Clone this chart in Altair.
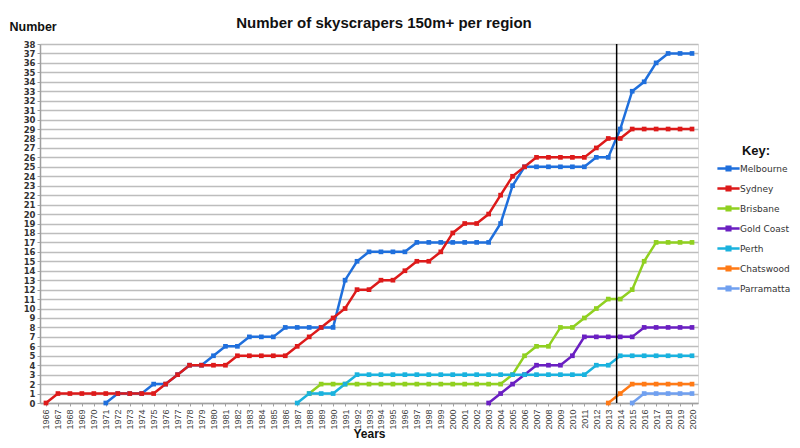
import altair as alt
import pandas as pd

years = list(range(1966, 2021))

regions = ["Melbourne", "Sydney", "Brisbane", "Gold Coast", "Perth", "Chatswood", "Parramatta"]
colors = ["#1f6fdc", "#dd1a1a", "#90d020", "#6a1fc2", "#1ab2de", "#ff7a16", "#70a0f0"]

melbourne_start = 1971
melbourne = [0, 1, 1, 1, 2, 2, 3, 4, 4, 5, 6, 6, 7, 7, 7, 8, 8, 8, 8, 8,
             13, 15, 16, 16, 16, 16, 17, 17, 17, 17, 17, 17, 17, 19, 23, 25, 25, 25, 25, 25,
             25, 26, 26, 29, 33, 34, 36, 37, 37, 37]
sydney_start = 1966
sydney = [0, 1, 1, 1, 1, 1, 1, 1, 1, 1, 2, 3, 4, 4, 4, 4, 5, 5, 5, 5,
          5, 6, 7, 8, 9, 10, 12, 12, 13, 13, 14, 15, 15, 16, 18, 19, 19, 20, 22, 24,
          25, 26, 26, 26, 26, 26, 27, 28, 28, 29, 29, 29, 29, 29, 29]
brisbane_start = 1988
brisbane = [1, 2, 2, 2, 2, 2, 2, 2, 2, 2, 2, 2, 2, 2, 2, 2, 2, 3, 5, 6,
            6, 8, 8, 9, 10, 11, 11, 12, 15, 17, 17, 17, 17]
goldcoast_start = 2003
goldcoast = [0, 1, 2, 3, 4, 4, 4, 5, 7, 7, 7, 7, 7, 8, 8, 8, 8, 8]
perth_start = 1987
perth = [0, 1, 1, 1, 2, 3, 3, 3, 3, 3, 3, 3, 3, 3, 3, 3, 3, 3, 3, 3,
         3, 3, 3, 3, 3, 4, 4, 5, 5, 5, 5, 5, 5, 5]
chatswood_start = 2013
chatswood = [0, 1, 2, 2, 2, 2, 2, 2]
parramatta_start = 2015
parramatta = [0, 1, 1, 1, 1, 1]

marker_year = 2013.7

series = [
    ("Melbourne", melbourne_start, melbourne),
    ("Sydney", sydney_start, sydney),
    ("Brisbane", brisbane_start, brisbane),
    ("Gold Coast", goldcoast_start, goldcoast),
    ("Perth", perth_start, perth),
    ("Chatswood", chatswood_start, chatswood),
    ("Parramatta", parramatta_start, parramatta),
]
rows = []
for name, start, vals in series:
    for i, v in enumerate(vals):
        rows.append({"Region": name, "Year": start + i, "Number": v})
df = pd.DataFrame(rows)

FONT_LBL = "DejaVu Sans"
FONT_TTL = "Liberation Sans"

x_scale = alt.Scale(domain=[1965.5, 2020.5], nice=False, zero=False)
y_scale = alt.Scale(domain=[0, 38], nice=False)
color_scale = alt.Scale(domain=regions, range=colors)

legend_path = "M-1.85,0L1.85,0M-0.3,-0.3L0.3,-0.3L0.3,0.3L-0.3,0.3Z"

x_axis = alt.Axis(
    values=years, labelAngle=270, labelFont=FONT_TTL, labelFontSize=9,
    labelColor="#444444", labelPadding=3, labelAlign="right", labelBaseline="middle",
    labelOverlap=False, grid=False, domainColor="#a0a0a0", domainWidth=1.5,
    tickColor="#a0a0a0", tickSize=3, format="d",
    title="Years", titleFont=FONT_TTL, titleFontSize=12,
    titleFontWeight="bold", titleColor="#111111",
    titleBaseline="alphabetic", titleY=34,
)
y_axis = alt.Axis(
    values=list(range(0, 39)), labelFont=FONT_LBL, labelFontSize=8.5,
    labelFontWeight="bold", labelColor="#333333", labelPadding=2,
    labelOverlap=False, format="d",
    grid=True, gridColor="#bdbdbd", gridWidth=1.5, domainColor="#a0a0a0",
    domainWidth=1.5, tickColor="#a0a0a0", tickSize=3,
    title="Number", titleFont=FONT_TTL, titleFontSize=12.5, titleFontWeight="bold",
    titleColor="#111111", titleAngle=0, titleAlign="left", titleBaseline="alphabetic",
    titleX=-31, titleY=-14,
)

base = alt.Chart(df).encode(
    x=alt.X("Year:Q", scale=x_scale, axis=x_axis),
    y=alt.Y("Number:Q", scale=y_scale, axis=y_axis),
)

lines = base.mark_line(strokeWidth=2.5).encode(
    color=alt.Color(
        "Region:N", scale=color_scale, sort=regions,
        legend=alt.Legend(
            title="Key:", orient="none", legendX=681, legendY=101,
            titleFont=FONT_TTL, titleFontSize=13, titleFontWeight="bold",
            titleColor="#111111", titlePadding=3, titleAnchor="middle",
            labelFont=FONT_LBL, labelFontSize=9, labelColor="#333333",
            labelOffset=4, rowPadding=5, padding=0,
            symbolType=legend_path, symbolSize=144, symbolStrokeWidth=2.5,
            symbolOpacity=1,
        ),
    ),
    detail="Region:N",
)

points = base.mark_point(shape="square", filled=True, size=22, opacity=1).encode(
    color=alt.Color("Region:N", scale=color_scale, legend=None),
)

vline = alt.Chart(pd.DataFrame({"Year": [marker_year]})).mark_rule(
    color="black", strokeWidth=1.5
).encode(x=alt.X("Year:Q", scale=x_scale, axis=x_axis))

chart = (
    alt.layer(lines, points, vline)
    .properties(
        width=658, height=359,
        padding={"left": 32, "top": 36, "right": 94, "bottom": 37},
        autosize=alt.AutoSizeParams(type="none"),
        title=alt.TitleParams(
            "Number of skyscrapers 150m+ per region", font=FONT_TTL, fontSize=15,
            fontWeight="bold", color="#111111", anchor="middle", dx=15,
            baseline="alphabetic", offset=16, frame="group", dy=39,
        ),
    )
    .configure_view(stroke=None)
    .configure(background="white")
)

chart.save("out.html", embed_options={"renderer": "svg", "actions": False})
